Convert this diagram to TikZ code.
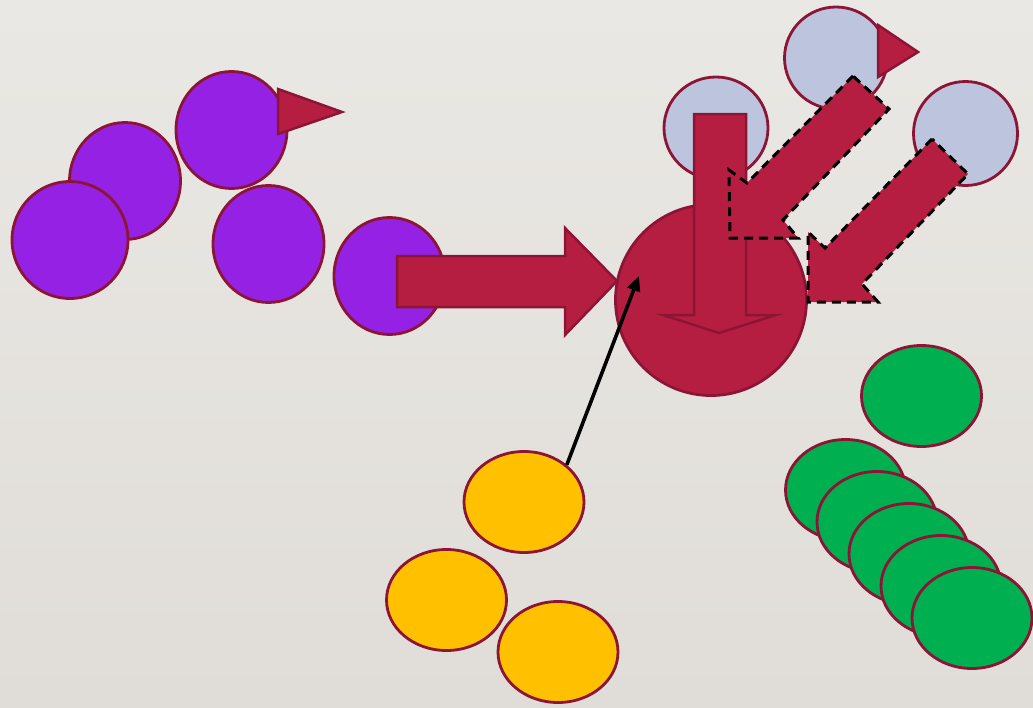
\documentclass[tikz,border=0pt]{standalone}
\usetikzlibrary{shapes.geometric,arrows.meta}
\definecolor{bgtop}{HTML}{EAE8E4}
\definecolor{bgbot}{HTML}{E0DDD8}
\definecolor{edge}{HTML}{8C1535}
\definecolor{crim}{HTML}{B61E41}
\definecolor{purp}{HTML}{9421E4}
\definecolor{lblue}{HTML}{BCC5DD}
\definecolor{gold}{HTML}{FFC000}
\definecolor{grn}{HTML}{00AF50}
\tikzset{
  ball/.style={ellipse, draw=edge, line width=2.8pt, inner sep=0pt},
  pball/.style={ball, fill=purp, minimum width=111pt, minimum height=117pt},
  bball/.style={ball, fill=lblue, minimum width=103pt, minimum height=102pt},
  yball/.style={ball, fill=gold, minimum width=120pt, minimum height=101pt},
  gball/.style={ball, fill=grn, minimum width=120pt, minimum height=101pt},
  blockarrow/.style={fill=crim, draw=edge, line width=2.5pt, line join=miter},
  dasharrow/.style={fill=crim, draw=black, line width=3pt, dash pattern=on 9pt off 6pt},
  beak/.style={fill=crim, draw=edge, line width=2.5pt, line join=miter},
  pointer/.style={draw=black, line width=3.6pt, -{Triangle[length=15pt,width=13pt]}}
}
\begin{document}
\begin{tikzpicture}[x=1pt,y=-1pt]
\useasboundingbox (0,0) rectangle (1033,707);
\shade[top color=bgtop, bottom color=bgbot] (0,0) rectangle (1033,707);

% purple group
\node[pball] (p1) at (125,181) {};
\node[pball, minimum width=116pt] (p2) at (70,240) {};
\node[pball] (p3) at (231.5,130) {};
\node[pball] (p4) at (268.5,244) {};
\node[pball] (p5) at (389.5,276) {};
\draw[beak] (278,89) -- (342,112) -- (278,134) -- cycle;

% big right arrow
\draw[blockarrow] (397,256) -- (565,256) -- (565,228) -- (617,281) -- (565,335) -- (565,307) -- (397,307) -- cycle;

% light blue group
\node[bball, minimum width=104pt] (a) at (716,128) {};
\node[bball] (b) at (836,58) {};
\node[bball, minimum width=104pt, minimum height=104pt] (c) at (965.5,133.5) {};
\draw[beak] (878,25) -- (918,52) -- (878,77) -- cycle;

% central circle
\node[ball, fill=crim, minimum width=191pt, minimum height=191pt] (hub) at (711,300) {};

% down arrow
\draw[blockarrow] (694,114) -- (746,114) -- (746,315) -- (776,315) -- (719,333) -- (663,315) -- (694,315) -- cycle;

% diagonal dashed arrows
\draw[dasharrow] (853,76) -- (747,183) -- (729,170) -- (730,238) -- (798,238) -- (783,220) -- (889,109) -- cycle;
\draw[dasharrow] (932,139) -- (825,248) -- (808,232) -- (808,302) -- (878,302) -- (862,284) -- (968,174) -- cycle;

% yellow group
\node[yball] (y1) at (524,502) {};
\node[yball] (y2) at (446.5,600) {};
\node[yball] (y3) at (558,652) {};

% green group
\node[gball] (g0) at (921.5,396) {};
\node[gball] (g1) at (845.5,490) {};
\node[gball] (g2) at (877,522) {};
\node[gball] (g3) at (909,554) {};
\node[gball] (g4) at (941,586) {};
\node[gball] (g5) at (972,618) {};

% thin pointer
\coordinate (tipA) at (639,276);
\draw[pointer] (y1.41) -- (tipA);
\end{tikzpicture}
\end{document}
